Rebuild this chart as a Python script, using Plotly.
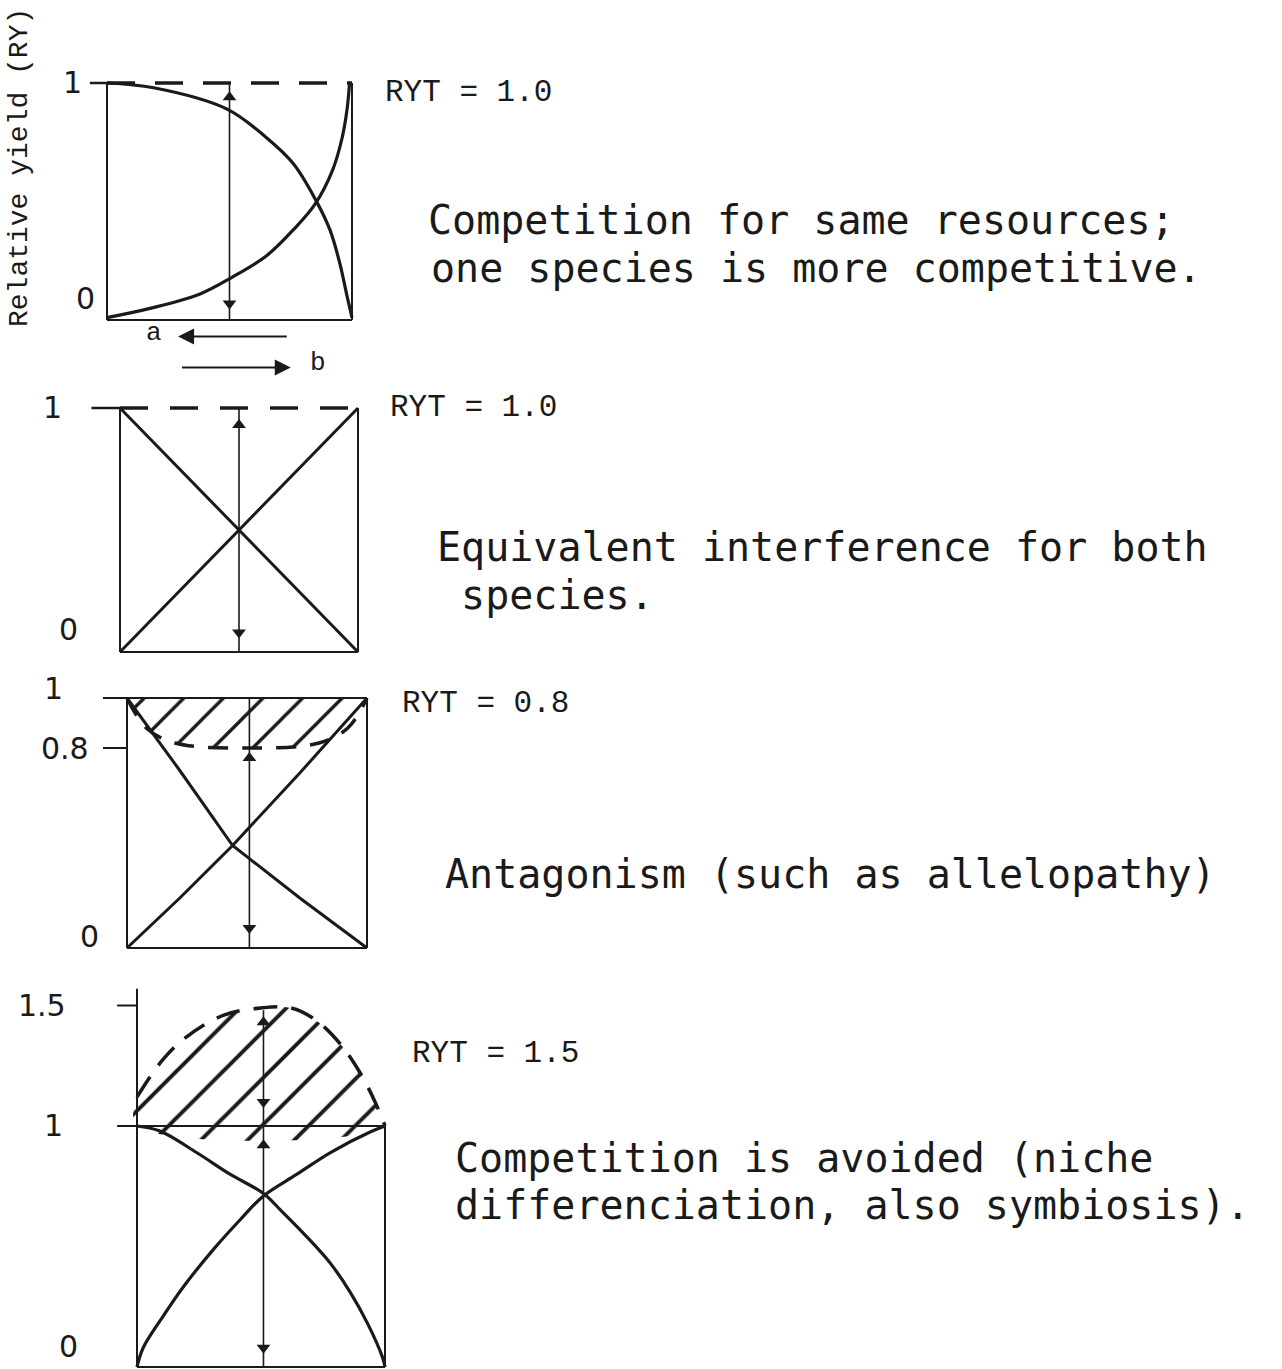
import plotly.graph_objects as go

W, H = 1282, 1369
INK = "#1a1a1a"

# ---- data -------------------------------------------------------------
# Panel 1: competition for the same resources, one species stronger
p1_x_a = [0.0, 0.19, 0.49, 0.65, 0.76, 0.85, 0.91, 0.95, 0.98, 1.0]
p1_ry_a = [1.0, 0.98, 0.89, 0.77, 0.66, 0.51, 0.38, 0.24, 0.10, 0.01]
p1_x_b = [0.0, 0.18, 0.38, 0.51, 0.65, 0.76, 0.85, 0.92, 0.96, 0.98, 0.99]
p1_ry_b = [0.01, 0.05, 0.11, 0.18, 0.27, 0.38, 0.49, 0.63, 0.77, 0.89, 1.0]

# Panel 2: equivalent interference
p2_x = [0.0, 1.0]
p2_ry_a = [1.0, 0.0]
p2_ry_b = [0.0, 1.0]

# Panel 3: antagonism
p3_x_a = [0.0, 0.22, 0.44, 0.72, 1.0]
p3_ry_a = [1.0, 0.71, 0.41, 0.20, 0.0]
p3_x_b = [0.0, 0.22, 0.44, 0.72, 1.0]
p3_ry_b = [0.0, 0.20, 0.41, 0.70, 1.0]
p3_ryt_x = [0.0, 0.08, 0.2, 0.5, 0.8, 0.92, 1.0]
p3_ryt = [1.0, 0.88, 0.82, 0.8, 0.82, 0.88, 1.0]

# Panel 4: competition avoided
p4_x_a = [0.0, 0.09, 0.24, 0.375, 0.51, 0.58, 0.685, 0.78, 0.86, 0.93, 0.99, 1.0]
p4_ry_a = [1.0, 0.98, 0.89, 0.80, 0.72, 0.65, 0.54, 0.43, 0.31, 0.18, 0.04, 0.0]
p4_x_b = [0.0, 0.025, 0.105, 0.185, 0.31, 0.415, 0.51, 0.645, 0.78, 0.94, 1.0]
p4_ry_b = [0.0, 0.08, 0.21, 0.33, 0.49, 0.61, 0.71, 0.80, 0.89, 0.975, 1.0]
p4_ryt_x = [0.0, 0.1, 0.2, 0.35, 0.5, 0.62, 0.72, 0.82, 0.9, 0.96, 1.0]
p4_ryt = [1.12, 1.27, 1.37, 1.46, 1.49, 1.49, 1.44, 1.34, 1.22, 1.1, 1.0]

ryt_values = [1.0, 1.0, 0.8, 1.5]
tick_labels = [["1", "0"], ["1", "0"], ["1", "0.8", "0"], ["1.5", "1", "0"]]
descriptions = [
    ["Competition for same resources;", "one species is more competitive."],
    ["Equivalent interference for both", " species."],
    ["Antagonism (such as allelopathy)"],
    ["Competition is avoided (niche", "differenciation, also symbiosis)."],
]
y_title = "Relative yield (RY)"

# ---- panel geometry (pixel of x=0, x=1, y=0, y=1, and axis ranges) ----
panels = [
    dict(px0=107, px1=352, py0=320, py1=83, xr=[-0.35, 1.15], yr=[-0.25, 1.08]),
    dict(px0=120, px1=358, py0=652, py1=408, xr=[-0.3, 1.1], yr=[-0.05, 1.08]),
    dict(px0=127, px1=367, py0=948, py1=698, xr=[-0.35, 1.1], yr=[-0.05, 1.07]),
    dict(px0=137, px1=385, py0=1367, py1=1126, xr=[-0.4, 1.1], yr=[-0.005, 1.62]),
]

fig = go.Figure()
layout_axes = {}
for i, p in enumerate(panels, start=1):
    left = p["px0"] + p["xr"][0] * (p["px1"] - p["px0"])
    right = p["px0"] + p["xr"][1] * (p["px1"] - p["px0"])
    bottom = p["py0"] + p["yr"][0] * (p["py1"] - p["py0"])
    top = p["py0"] + p["yr"][1] * (p["py1"] - p["py0"])
    sfx = "" if i == 1 else str(i)
    layout_axes["xaxis" + sfx] = dict(domain=[left / W, right / W], range=p["xr"],
                                      visible=False, anchor="y" + sfx, fixedrange=True)
    layout_axes["yaxis" + sfx] = dict(domain=[1 - bottom / H, 1 - top / H], range=p["yr"],
                                      visible=False, anchor="x" + sfx, fixedrange=True)


def ax(i):
    return ("x" if i == 1 else "x%d" % i), ("y" if i == 1 else "y%d" % i)


def line(i, xs, ys, width=2.0, dash="solid", spline=False):
    xa, ya = ax(i)
    fig.add_trace(go.Scatter(
        x=xs, y=ys, xaxis=xa, yaxis=ya, mode="lines", hoverinfo="skip",
        line=dict(color=INK, width=width, dash=dash,
                  shape="spline" if spline else "linear", smoothing=1.0),
        showlegend=False))


def arrowheads(i, x, ups, downs, size=12):
    xa, ya = ax(i)
    for ys, sym in ((ups, "triangle-up"), (downs, "triangle-down")):
        fig.add_trace(go.Scatter(
            x=[x] * len(ys), y=ys, xaxis=xa, yaxis=ya, mode="markers", hoverinfo="skip",
            marker=dict(symbol=sym, size=size, color=INK), showlegend=False))


def hatch(i, xs, ys, size):
    xa, ya = ax(i)
    fig.add_trace(go.Scatter(
        x=xs, y=ys, xaxis=xa, yaxis=ya, mode="lines", fill="toself",
        fillcolor="rgba(0,0,0,0)", line=dict(width=0, shape="spline", smoothing=1.0),
        fillpattern=dict(shape="/", size=size, solidity=0.12, fgcolor=INK, fgopacity=1,
                         bgcolor="rgba(0,0,0,0)", fillmode="overlay"),
        hoverinfo="skip", showlegend=False))


annotations = []


def tick_text(i, x, y, text, yshift=0):
    xa, ya = ax(i)
    annotations.append(dict(x=x, y=y, xref=xa, yref=ya, text=text, showarrow=False,
                            xanchor="right", yanchor="middle", yshift=yshift,
                            font=dict(family="DejaVu Sans", size=30, color=INK)))


# ---- panel 1 ----
line(1, [0, 0], [0, 1])
line(1, [1, 1], [0, 1])
line(1, [0, 1], [0, 0])
line(1, [-0.07, 0.0], [ryt_values[0]] * 2, width=2.5)
line(1, [0.0, 1.0], [ryt_values[0]] * 2, width=3.5, dash="28px,20px")
line(1, p1_x_a, p1_ry_a, width=3.2, spline=True)
line(1, p1_x_b, p1_ry_b, width=3.2, spline=True)
line(1, [0.5, 0.5], [0, 1], width=1.6)
arrowheads(1, 0.5, [0.94], [0.07])
tick_text(1, -0.095, 1, tick_labels[0][0])
tick_text(1, -0.04, 0, tick_labels[0][1], yshift=22)
# mixture direction arrows
annotations += [
    dict(x=0.29, y=-0.07, ax=0.74, ay=-0.07, xref="x", yref="y", axref="x", ayref="y",
         text="", showarrow=True, arrowhead=2, arrowsize=1.6, arrowwidth=2, arrowcolor=INK),
    dict(x=0.75, y=-0.2, ax=0.30, ay=-0.2, xref="x", yref="y", axref="x", ayref="y",
         text="", showarrow=True, arrowhead=2, arrowsize=1.6, arrowwidth=2, arrowcolor=INK),
    dict(x=0.19, y=-0.055, xref="x", yref="y", text="a", showarrow=False,
         font=dict(family="Liberation Mono", size=26, color=INK)),
    dict(x=0.86, y=-0.18, xref="x", yref="y", text="b", showarrow=False,
         font=dict(family="Liberation Mono", size=26, color=INK)),
]

# ---- panel 2 ----
line(2, [0, 0], [0, 1])
line(2, [1, 1], [0, 1])
line(2, [0, 1], [0, 0])
line(2, [-0.12, 0.0], [ryt_values[1]] * 2, width=2.5)
line(2, [0.0, 1.0], [ryt_values[1]] * 2, width=3.5, dash="28px,22px")
line(2, p2_x, p2_ry_a, width=3)
line(2, p2_x, p2_ry_b, width=3)
line(2, [0.5, 0.5], [0, 1], width=1.6)
arrowheads(2, 0.5, [0.93], [0.08])
tick_text(2, -0.235, 1, tick_labels[1][0])
tick_text(2, -0.17, 0, tick_labels[1][1], yshift=22)

# ---- panel 3 ----
hatch(3, p3_ryt_x, p3_ryt, 28)
line(3, [0, 0], [0, 1])
line(3, [1, 1], [0, 1])
line(3, [0, 1], [0, 0])
line(3, [-0.1, 1.0], [1, 1], width=2.2)
line(3, [-0.1, 0.0], [ryt_values[2]] * 2, width=2)
line(3, p3_ryt_x, p3_ryt, width=3.5, dash="20px,14px", spline=True)
line(3, p3_x_a, p3_ry_a, width=3)
line(3, p3_x_b, p3_ry_b, width=3)
line(3, [0.51, 0.51], [0, 1], width=1.6)
arrowheads(3, 0.51, [0.76], [0.08])
tick_text(3, -0.26, 1.04, tick_labels[2][0])
tick_text(3, -0.15, ryt_values[2], tick_labels[2][1])
tick_text(3, -0.11, 0, tick_labels[2][2], yshift=12)

# ---- panel 4 ----
hatch(4, [0.0] + p4_ryt_x + [0.0], [1.0] + p4_ryt + [1.0], 33)
line(4, [0, 0], [0, 1.57])
line(4, [1, 1], [0, 1])
line(4, [0, 1], [0, 0])
line(4, [-0.08, 1.0], [1, 1], width=2.2)
line(4, [-0.08, 0.0], [ryt_values[3]] * 2, width=2)
line(4, p4_ryt_x, p4_ryt, width=3.5, dash="24px,14px", spline=True)
line(4, p4_x_a, p4_ry_a, width=3.2, spline=True)
line(4, p4_x_b, p4_ry_b, width=3.2, spline=True)
line(4, [0.51, 0.51], [0, 1.48], width=1.6)
arrowheads(4, 0.51, [1.43, 0.92], [1.10, 0.08])
tick_text(4, -0.28, ryt_values[3], tick_labels[3][0])
tick_text(4, -0.29, 1, tick_labels[3][1])
tick_text(4, -0.23, 0, tick_labels[3][2], yshift=20)

# ---- text ---------------------------------------------------------------
ryt_pos = [(383, 93), (388, 407), (400, 703), (410, 1053)]
for v, (px, py) in zip(ryt_values, ryt_pos):
    annotations.append(dict(x=px / W, y=1 - py / H, xref="paper", yref="paper",
                            text="RYT = %.1f" % v, showarrow=False, xanchor="left",
                            yanchor="middle",
                            font=dict(family="Liberation Mono", size=31, color=INK)))

desc_pos = [[(426, 220), (429, 268)], [(435, 547), (435, 595)],
            [(443, 874)], [(453, 1158), (453, 1205)]]
for lines_, poss in zip(descriptions, desc_pos):
    for txt, (px, py) in zip(lines_, poss):
        annotations.append(dict(x=px / W, y=1 - py / H, xref="paper", yref="paper",
                                text=txt, showarrow=False, xanchor="left", yanchor="middle",
                                font=dict(family="DejaVu Sans Mono", size=40, color=INK)))

annotations.append(dict(x=20 / W, y=1 - 168 / H, xref="paper", yref="paper",
                        text=y_title, textangle=-90, showarrow=False,
                        xanchor="center", yanchor="middle",
                        font=dict(family="Liberation Mono", size=28, color=INK)))

fig.update_layout(
    width=W, height=H, margin=dict(l=0, r=0, t=0, b=0),
    paper_bgcolor="white", plot_bgcolor="rgba(0,0,0,0)",
    showlegend=False, annotations=annotations, **layout_axes)

fig.write_html("out.html", config={"displayModeBar": False})
